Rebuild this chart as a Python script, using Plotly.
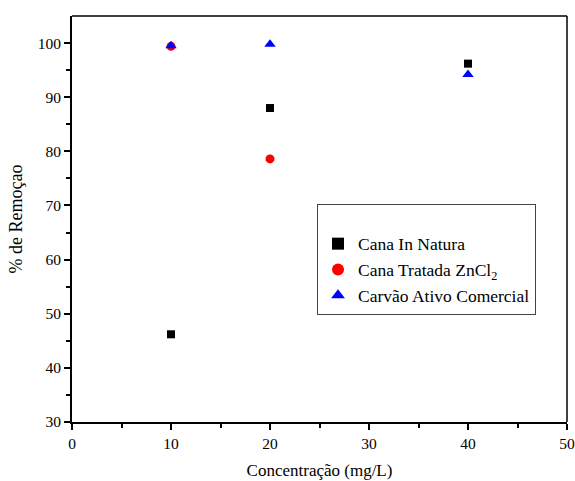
import plotly.graph_objects as go

conc_natura = [10, 20, 40]
rem_natura = [46.2, 88.0, 96.2]
conc_zncl2 = [10, 20]
rem_zncl2 = [99.4, 78.6]
conc_carvao = [10, 20, 40]
rem_carvao = [99.5, 99.8, 94.2]

FONT = "Liberation Serif"

fig = go.Figure()
fig.add_trace(go.Scatter(x=conc_natura, y=rem_natura, mode="markers", name="Cana In Natura",
                         marker=dict(symbol="square", color="black", size=8)))
fig.add_trace(go.Scatter(x=conc_zncl2, y=rem_zncl2, mode="markers", name="Cana Tratada ZnCl<sub>2</sub>",
                         marker=dict(symbol="circle", color="red", size=9)))
fig.add_trace(go.Scatter(x=conc_carvao, y=rem_carvao, mode="markers", name="Carvão Ativo Comercial",
                         marker=dict(symbol="triangle-up", color="blue", size=10)))

fig.update_layout(
    template="none",
    width=575, height=481,
    margin=dict(l=72, r=8, t=16, b=59),
    plot_bgcolor="white", paper_bgcolor="white",
    font=dict(family=FONT, size=15, color="black"),
    showlegend=True,
    legend=dict(x=0.495, y=0.537, xanchor="left", yanchor="top",
                bordercolor="#444", borderwidth=1, bgcolor="white",
                font=dict(family=FONT, size=17.5),
                title=dict(text=" ", font=dict(size=16)),
                itemsizing="constant", tracegroupgap=6),
    xaxis=dict(range=[0, 50], tickvals=[0, 10, 20, 30, 40, 50], showgrid=False, zeroline=False,
               automargin=False, ticklabeloverflow="allow",
               showline=True, linecolor="black", linewidth=2, ticks="outside", ticklen=6, tickwidth=1.5,
               tickcolor="black", tickfont=dict(family=FONT, size=15.5),
               minor=dict(tickvals=[5, 15, 25, 35, 45], ticks="outside", ticklen=4, tickwidth=1.5, tickcolor="black"),
               title=dict(text="Concentração (mg/L)", font=dict(family=FONT, size=17), standoff=14)),
    yaxis=dict(range=[30, 105], tickvals=[30, 40, 50, 60, 70, 80, 90, 100], showgrid=False, zeroline=False,
               automargin=False,
               showline=True, linecolor="black", linewidth=2, ticks="outside", ticklen=6, tickwidth=1.5,
               tickcolor="black", tickfont=dict(family=FONT, size=15.5),
               minor=dict(tickvals=[35, 45, 55, 65, 75, 85, 95], ticks="outside", ticklen=4, tickwidth=1.5, tickcolor="black"),
               title=dict(text="% de Remoçao", font=dict(family=FONT, size=18), standoff=10)),
)
fig.add_shape(type="line", xref="paper", yref="paper", x0=0, x1=1, y0=1, y1=1, line=dict(color="black", width=1.5))
fig.add_shape(type="line", xref="paper", yref="paper", x0=1, x1=1, y0=0, y1=1, line=dict(color="black", width=1.5))

fig.write_html("out.html", config={"displayModeBar": False},
               post_script="document.body.style.margin='0';")
